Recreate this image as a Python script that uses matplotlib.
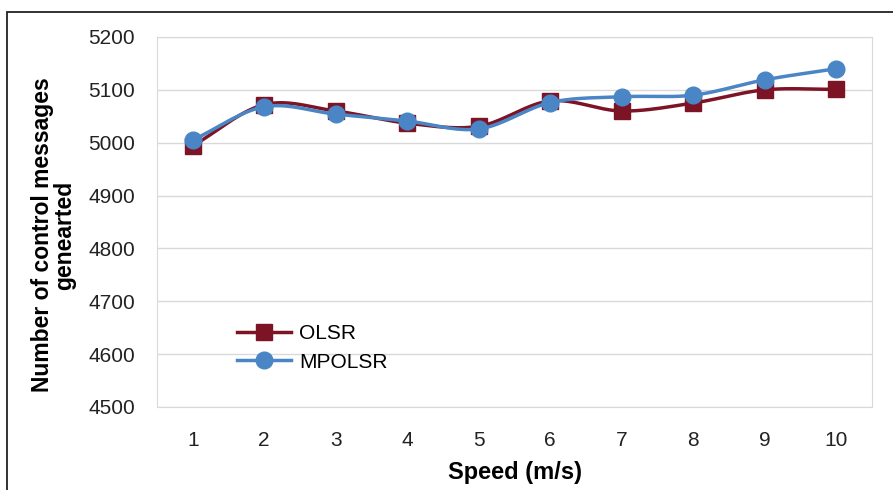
import numpy as np
import matplotlib.pyplot as plt
from matplotlib.patches import Rectangle
from matplotlib.lines import Line2D

speed = [1, 2, 3, 4, 5, 6, 7, 8, 9, 10]
olsr = [4994, 5072, 5060, 5037, 5031, 5079, 5060, 5075, 5100, 5101]
mpolsr = [5005, 5068, 5054, 5041, 5026, 5076, 5087, 5090, 5119, 5140]
yticks = [4500, 4600, 4700, 4800, 4900, 5000, 5100, 5200]

red = '#7D1426'
blue = '#4A86C5'

plt.rcParams['font.family'] = ['Liberation Sans', 'DejaVu Sans']

def smooth(x, y, n=20):
    # Catmull-Rom style curve, like Excel's smoothed line
    x = np.asarray(x, float); y = np.asarray(y, float)
    px = np.concatenate([[2*x[0]-x[1]], x, [2*x[-1]-x[-2]]])
    py = np.concatenate([[2*y[0]-y[1]], y, [2*y[-1]-y[-2]]])
    xs, ys = [], []
    for i in range(1, len(px)-2):
        t = np.linspace(0, 1, n, endpoint=False)
        for p, out in ((px, xs), (py, ys)):
            p0, p1, p2, p3 = p[i-1], p[i], p[i+1], p[i+2]
            out.extend(0.5*((2*p1) + (-p0+p2)*t + (2*p0-5*p1+4*p2-p3)*t**2 + (-p0+3*p1-3*p2+p3)*t**3))
    xs.append(x[-1]); ys.append(y[-1])
    return np.array(xs), np.array(ys)

fig = plt.figure(figsize=(8.93, 4.90), dpi=100)
ax = fig.add_axes([0.1758, 0.1694, 0.8007, 0.7551])

fig.patches.append(Rectangle((7/893, -0.1), 1.2, 1.1 - 12/490, transform=fig.transFigure,
                             fill=False, edgecolor='#222222', linewidth=1.3))

sx, sy = smooth(speed, olsr)
ax.plot(sx, sy, color=red, lw=2.5, zorder=3)
ax.plot(speed, olsr, 's', color=red, ms=11, zorder=4)
sx, sy = smooth(speed, mpolsr)
ax.plot(sx, sy, color=blue, lw=2.5, zorder=5)
ax.plot(speed, mpolsr, 'o', color=blue, ms=12, zorder=6)

ax.set_xlim(0.5, 10.5)
ax.set_ylim(4500, 5200)
ax.set_yticks(yticks)
ax.set_xticks(speed)
ax.grid(axis='y', color='#D9D9D9', lw=1)
ax.set_axisbelow(True)
for s in ax.spines.values():
    s.set_color('#D9D9D9')
ax.tick_params(length=0, labelsize=15, colors='#222222')
ax.tick_params(axis='y', pad=16)
ax.tick_params(axis='x', pad=17)

ax.set_xlabel('Speed (m/s)', fontsize=17, fontweight='bold', labelpad=8)
ax.set_ylabel('Number of control messages\ngenearted', fontsize=16.5, fontweight='bold',
              linespacing=0.95)
ax.yaxis.set_label_coords(-0.113, 0.465)

handles = [Line2D([], [], color=red, lw=2.5, marker='s', ms=12),
           Line2D([], [], color=blue, lw=2.5, marker='o', ms=12)]
ax.legend(handles, ['OLSR', 'MPOLSR'], loc='lower left', bbox_to_anchor=(0.085, 0.045),
          frameon=False, fontsize=15, handlelength=2.6, handletextpad=0.4, labelspacing=0.45)

fig.savefig('out.png', dpi=100)
